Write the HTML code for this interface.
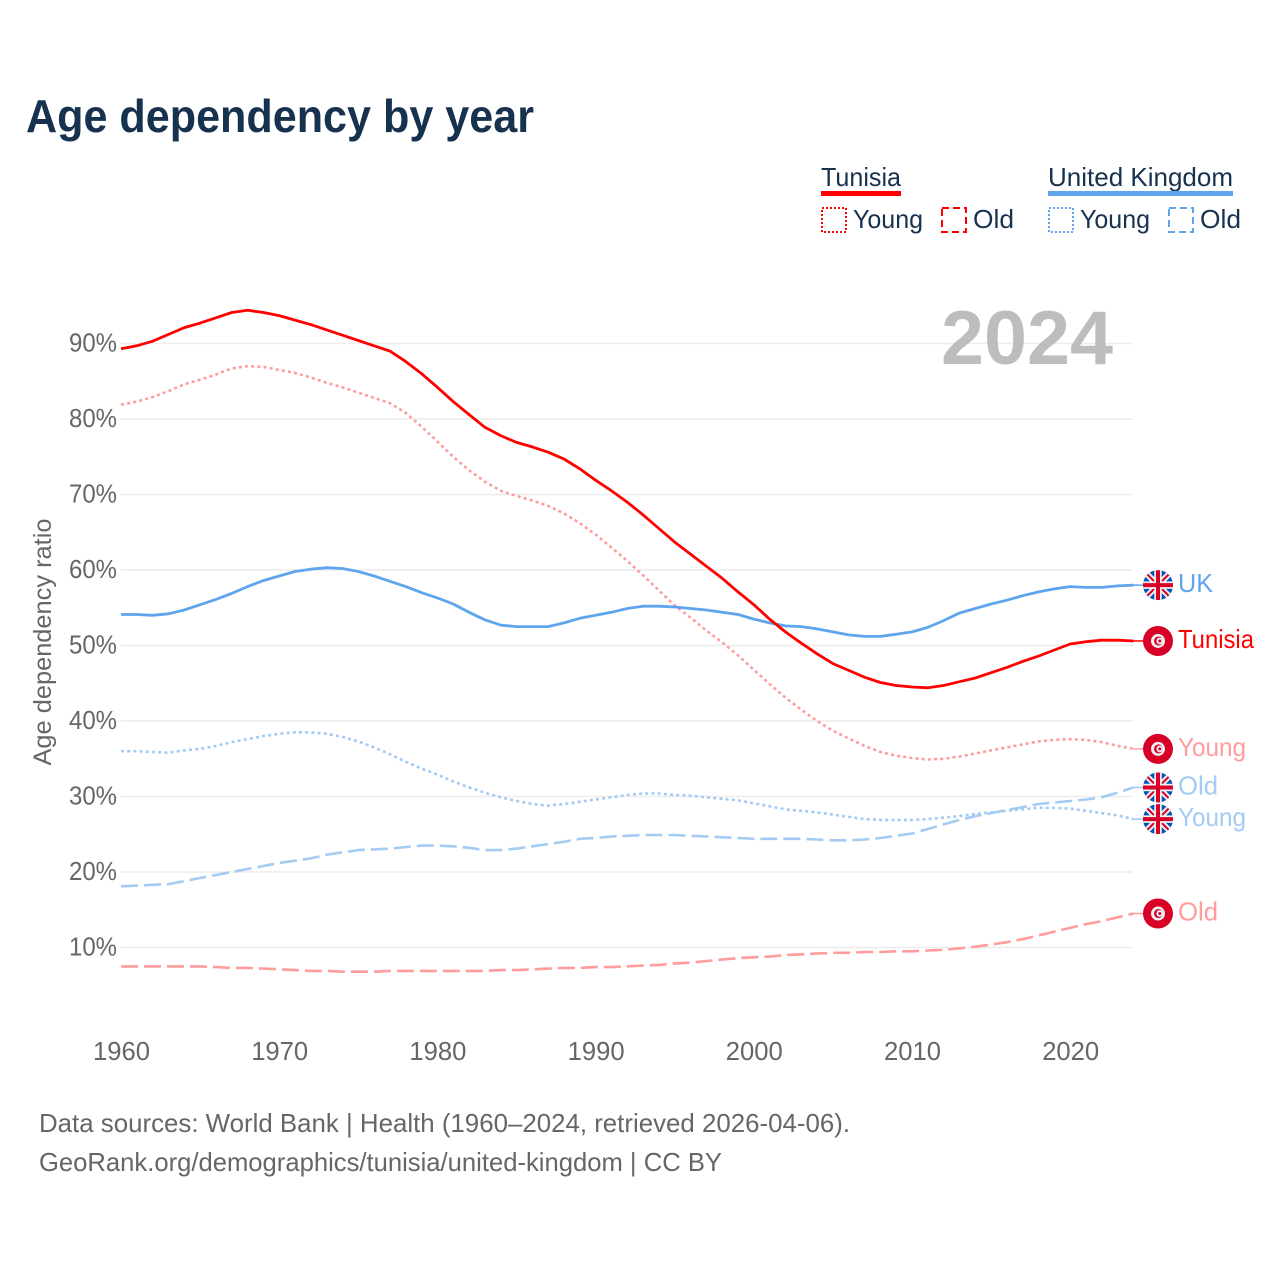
<!DOCTYPE html>
<html lang="en">
<head>
<meta charset="utf-8">
<title>Age dependency by year</title>
<style>
html,body{margin:0;padding:0;background:#fff;}
svg{display:block;font-family:"Liberation Sans",sans-serif;}
</style>
</head>
<body>
<svg id="chart" width="1280" height="1280" viewBox="0 0 1280 1280" xmlns="http://www.w3.org/2000/svg">
  <text x="26" y="132" font-size="46" font-weight="700" fill="#17324f" textLength="508" lengthAdjust="spacingAndGlyphs">Age dependency by year</text>

  <g>
    <text x="821" y="186" font-size="26" fill="#17324f" textLength="80" lengthAdjust="spacingAndGlyphs">Tunisia</text>
    <rect x="821" y="191" width="80" height="5" fill="#ff0000"/>
    <rect x="822" y="208" width="24" height="24" fill="none" stroke="#ff0000" stroke-width="2" stroke-dasharray="2 2"/>
    <text x="853" y="228" font-size="26" fill="#17324f" textLength="70" lengthAdjust="spacingAndGlyphs">Young</text>
    <rect x="942" y="208" width="24" height="24" fill="none" stroke="#ff0000" stroke-width="2" stroke-dasharray="7 4"/>
    <text x="973" y="228" font-size="26" fill="#17324f" textLength="41" lengthAdjust="spacingAndGlyphs">Old</text>

    <text x="1048" y="186" font-size="26" fill="#17324f" textLength="185" lengthAdjust="spacingAndGlyphs">United Kingdom</text>
    <rect x="1048" y="191" width="185" height="5" fill="#5ea5ee"/>
    <rect x="1049" y="208" width="24" height="24" fill="none" stroke="#5ea5ee" stroke-width="2" stroke-dasharray="2 2"/>
    <text x="1080" y="228" font-size="26" fill="#17324f" textLength="70" lengthAdjust="spacingAndGlyphs">Young</text>
    <rect x="1169" y="208" width="24" height="24" fill="none" stroke="#5ea5ee" stroke-width="2" stroke-dasharray="7 4"/>
    <text x="1200" y="228" font-size="26" fill="#17324f" textLength="41" lengthAdjust="spacingAndGlyphs">Old</text>
  </g>

  <g id="grid"></g>
  <g id="yticks"></g>
  <g id="xticks"></g>

  <text transform="translate(51,642) rotate(-90)" text-anchor="middle" font-size="25" fill="#666666" textLength="247" lengthAdjust="spacingAndGlyphs">Age dependency ratio</text>

  <text x="941" y="364" font-size="76" font-weight="700" fill="#bdbdbd" textLength="172" lengthAdjust="spacingAndGlyphs">2024</text>

  <g id="series"></g>
  <g id="ends"></g>

  <text x="39" y="1132" font-size="26" fill="#666666" textLength="811" lengthAdjust="spacingAndGlyphs">Data sources: World Bank | Health (1960–2024, retrieved 2026-04-06).</text>
  <text x="39" y="1171" font-size="26" fill="#666666" textLength="683" lengthAdjust="spacingAndGlyphs">GeoRank.org/demographics/tunisia/united-kingdom | CC BY</text>
</svg>
<script>
var startYear = 1960;
var xTickYears = [1960, 1970, 1980, 1990, 2000, 2010, 2020];
var yTickValues = [10, 20, 30, 40, 50, 60, 70, 80, 90];

var tunisiaTotal = [
  89.3,89.7,90.3,91.2,92.1,92.7,93.4,94.1,94.4,94.1,93.7,
  93.1,92.5,91.8,91.1,90.4,89.7,89.0,87.6,86.0,84.2,
  82.3,80.6,78.9,77.8,76.9,76.3,75.6,74.7,73.4,71.9,
  70.5,69.0,67.3,65.5,63.7,62.1,60.5,58.9,57.1,55.4,
  53.5,51.8,50.3,48.9,47.6,46.7,45.8,45.1,44.7,44.5,
  44.4,44.7,45.2,45.7,46.4,47.1,47.9,48.6,49.4,50.2,
  50.5,50.7,50.7,50.6
];
var tunisiaYoung = [
  81.9,82.3,82.9,83.7,84.6,85.2,85.9,86.7,87.0,86.9,86.5,
  86.1,85.5,84.8,84.2,83.5,82.8,82.1,80.8,79.0,77.0,
  75.0,73.2,71.7,70.5,69.8,69.2,68.5,67.5,66.2,64.7,
  63.0,61.2,59.3,57.3,55.3,53.7,52.0,50.4,48.7,46.8,
  44.9,43.1,41.5,40.0,38.7,37.7,36.7,35.9,35.4,35.1,
  34.9,35.0,35.3,35.7,36.1,36.5,36.9,37.3,37.5,37.6,
  37.5,37.2,36.7,36.3
];
var tunisiaOld = [
  7.5,7.5,7.5,7.5,7.5,7.5,7.4,7.3,7.3,7.2,7.1,
  7.0,6.9,6.9,6.8,6.8,6.8,6.9,6.9,6.9,6.9,
  6.9,6.9,6.9,7.0,7.0,7.1,7.2,7.3,7.3,7.4,
  7.4,7.5,7.6,7.7,7.9,8.0,8.2,8.4,8.6,8.7,
  8.8,9.0,9.1,9.2,9.3,9.3,9.4,9.4,9.5,9.5,
  9.6,9.7,9.9,10.1,10.4,10.7,11.1,11.6,12.1,12.6,
  13.1,13.5,14.0,14.5
];
var ukTotal = [
  54.1,54.1,54.0,54.2,54.7,55.4,56.1,56.9,57.8,58.6,59.2,
  59.8,60.1,60.3,60.2,59.8,59.2,58.5,57.8,57.0,56.3,
  55.5,54.4,53.4,52.7,52.5,52.5,52.5,53.0,53.6,54.0,
  54.4,54.9,55.2,55.2,55.1,54.9,54.7,54.4,54.1,53.5,
  53.0,52.6,52.5,52.2,51.8,51.4,51.2,51.2,51.5,51.8,
  52.4,53.3,54.3,54.9,55.5,56.0,56.6,57.1,57.5,57.8,
  57.7,57.7,57.9,58.0
];
var ukYoung = [
  36.0,36.0,35.9,35.8,36.1,36.3,36.7,37.2,37.6,38.0,38.3,
  38.5,38.5,38.3,37.9,37.3,36.5,35.6,34.6,33.7,32.9,
  32.0,31.2,30.5,29.9,29.4,29.0,28.8,29.0,29.3,29.6,
  29.9,30.2,30.4,30.4,30.2,30.1,29.9,29.7,29.5,29.1,
  28.7,28.3,28.1,27.9,27.6,27.3,27.0,26.9,26.9,26.9,
  27.0,27.2,27.4,27.7,27.9,28.1,28.3,28.5,28.5,28.4,
  28.1,27.8,27.5,27.0
];
var ukOld = [
  18.1,18.2,18.3,18.4,18.8,19.2,19.6,20.0,20.4,20.8,21.2,
  21.5,21.8,22.3,22.6,22.9,23.0,23.1,23.3,23.5,23.5,
  23.4,23.2,22.9,22.9,23.1,23.4,23.7,24.0,24.4,24.5,
  24.7,24.8,24.9,24.9,24.9,24.8,24.7,24.6,24.5,24.4,
  24.4,24.4,24.4,24.3,24.2,24.2,24.3,24.5,24.8,25.1,
  25.7,26.3,26.9,27.4,27.8,28.2,28.6,29.0,29.2,29.4,
  29.6,29.9,30.5,31.2
];

var NS = 'http://www.w3.org/2000/svg';
function xScale(year) { return 121 + (year - 1960) * 15.82; }
function yScale(v) { return 1023 - v * 7.55; }
function mk(tag, attrs, parent, text) {
  var el = document.createElementNS(NS, tag);
  for (var k in attrs) { el.setAttribute(k, attrs[k]); }
  if (text !== undefined) { el.textContent = text; }
  parent.appendChild(el);
  return el;
}

var gridG = document.getElementById('grid');
var yG = document.getElementById('yticks');
var xG = document.getElementById('xticks');

yTickValues.forEach(function (v) {
  var line = mk('line', {x1: 121, x2: 1133, y1: yScale(v), y2: yScale(v), stroke: '#ececec', 'stroke-width': 1.5}, gridG);
  
  
  var t = mk('text', {x: 117, y: yScale(v) + 8, 'text-anchor': 'end', 'font-size': 26, fill: '#666666', textLength: 48, lengthAdjust: 'spacingAndGlyphs'}, yG, v + '%');
  
  
});

xTickYears.forEach(function (yr) {
  var t = mk('text', {x: xScale(yr) + 0.5, y: 1060, 'text-anchor': 'middle', 'font-size': 26, fill: '#666666', textLength: 57, lengthAdjust: 'spacingAndGlyphs'}, xG, String(yr));
  
  
});

function ukFlag(g, cx, cy, id) {
  var defs = mk('clipPath', {id: id}, g);
  mk('circle', {cx: cx, cy: cy, r: 15}, defs);
  var f = mk('g', {'clip-path': 'url(#' + id + ')'}, g);
  mk('rect', {x: cx - 15, y: cy - 15, width: 30, height: 30, fill: '#0052b4'}, f);
  mk('path', {d: 'M' + (cx - 15) + ' ' + (cy - 15) + 'L' + (cx + 15) + ' ' + (cy + 15) + 'M' + (cx + 15) + ' ' + (cy - 15) + 'L' + (cx - 15) + ' ' + (cy + 15), stroke: '#f0f0f0', 'stroke-width': 6}, f);
  mk('path', {d: 'M' + (cx - 15) + ' ' + (cy - 15) + 'L' + (cx + 15) + ' ' + (cy + 15) + 'M' + (cx + 15) + ' ' + (cy - 15) + 'L' + (cx - 15) + ' ' + (cy + 15), stroke: '#d80027', 'stroke-width': 2}, f);
  mk('path', {d: 'M' + cx + ' ' + (cy - 15) + 'V' + (cy + 15) + 'M' + (cx - 15) + ' ' + cy + 'H' + (cx + 15), stroke: '#f0f0f0', 'stroke-width': 7.5}, f);
  mk('path', {d: 'M' + cx + ' ' + (cy - 15) + 'V' + (cy + 15) + 'M' + (cx - 15) + ' ' + cy + 'H' + (cx + 15), stroke: '#d80027', 'stroke-width': 4}, f);
}
function tnFlag(g, cx, cy) {
  mk('circle', {cx: cx, cy: cy, r: 15, fill: '#d80027'}, g);
  mk('circle', {cx: cx, cy: cy, r: 7, fill: '#f0f0f0'}, g);
  mk('circle', {cx: cx + 0.5, cy: cy, r: 4.5, fill: '#d80027'}, g);
  mk('circle', {cx: cx + 1.8, cy: cy, r: 3.4, fill: '#f0f0f0'}, g);
  mk('circle', {cx: cx + 1.8, cy: cy, r: 1.5, fill: '#d80027'}, g);
}

var seriesG = document.getElementById('series');
var endsG = document.getElementById('ends');
var flagCounter = 0;

function drawSeries(name, values, color, dash, width, opacity, labelText, labelColor, labelWidth, flagType) {
  var pts = values.map(function (v, i) {
    return xScale(startYear + i).toFixed(1) + ',' + yScale(v).toFixed(1);
  });
  var path = mk('path', {d: 'M' + pts.join('L'), fill: 'none', stroke: color, 'stroke-width': width, 'stroke-linejoin': 'round', opacity: opacity}, seriesG);
  if (dash) { path.setAttribute('stroke-dasharray', dash); }
  
  

  var last = values[values.length - 1];
  var endY = yScale(last);
  var endX = xScale(startYear + values.length - 1);
  var leader = mk('line', {x1: endX, x2: 1144, y1: endY, y2: endY, stroke: color, 'stroke-width': 1.5, opacity: opacity}, endsG);
  
  

  var flag = mk('g', {}, endsG);
  
  
  if (flagType === 'uk') {
    flagCounter += 1;
    ukFlag(flag, 1158, endY, 'ukclip' + flagCounter);
  } else {
    tnFlag(flag, 1158, endY);
  }

  var label = mk('text', {x: 1178, y: endY + 7, 'font-size': 26, fill: labelColor, textLength: labelWidth, lengthAdjust: 'spacingAndGlyphs'}, endsG, labelText);
  
  
}

drawSeries('uk-young', ukYoung, '#a3cbf4', '3 3.2', 2.6, 1, 'Young', '#a3cbf4', 68, 'uk');
drawSeries('uk-old', ukOld, '#a3cbf4', '17 6', 2.6, 1, 'Old', '#a3cbf4', 40, 'uk');
drawSeries('tunisia-young', tunisiaYoung, '#ff9c9c', '3 3.2', 2.6, 1, 'Young', '#ff9c9c', 68, 'tn');
drawSeries('tunisia-old', tunisiaOld, '#ff9c9c', '17 6', 2.6, 1, 'Old', '#ff9c9c', 40, 'tn');
drawSeries('uk-total', ukTotal, '#5ea5ee', '', 2.8, 1, 'UK', '#5ea5ee', 35, 'uk');
drawSeries('tunisia-total', tunisiaTotal, '#ff0000', '', 2.8, 1, 'Tunisia', '#ff0000', 76, 'tn');
</script>
</body>
</html>
